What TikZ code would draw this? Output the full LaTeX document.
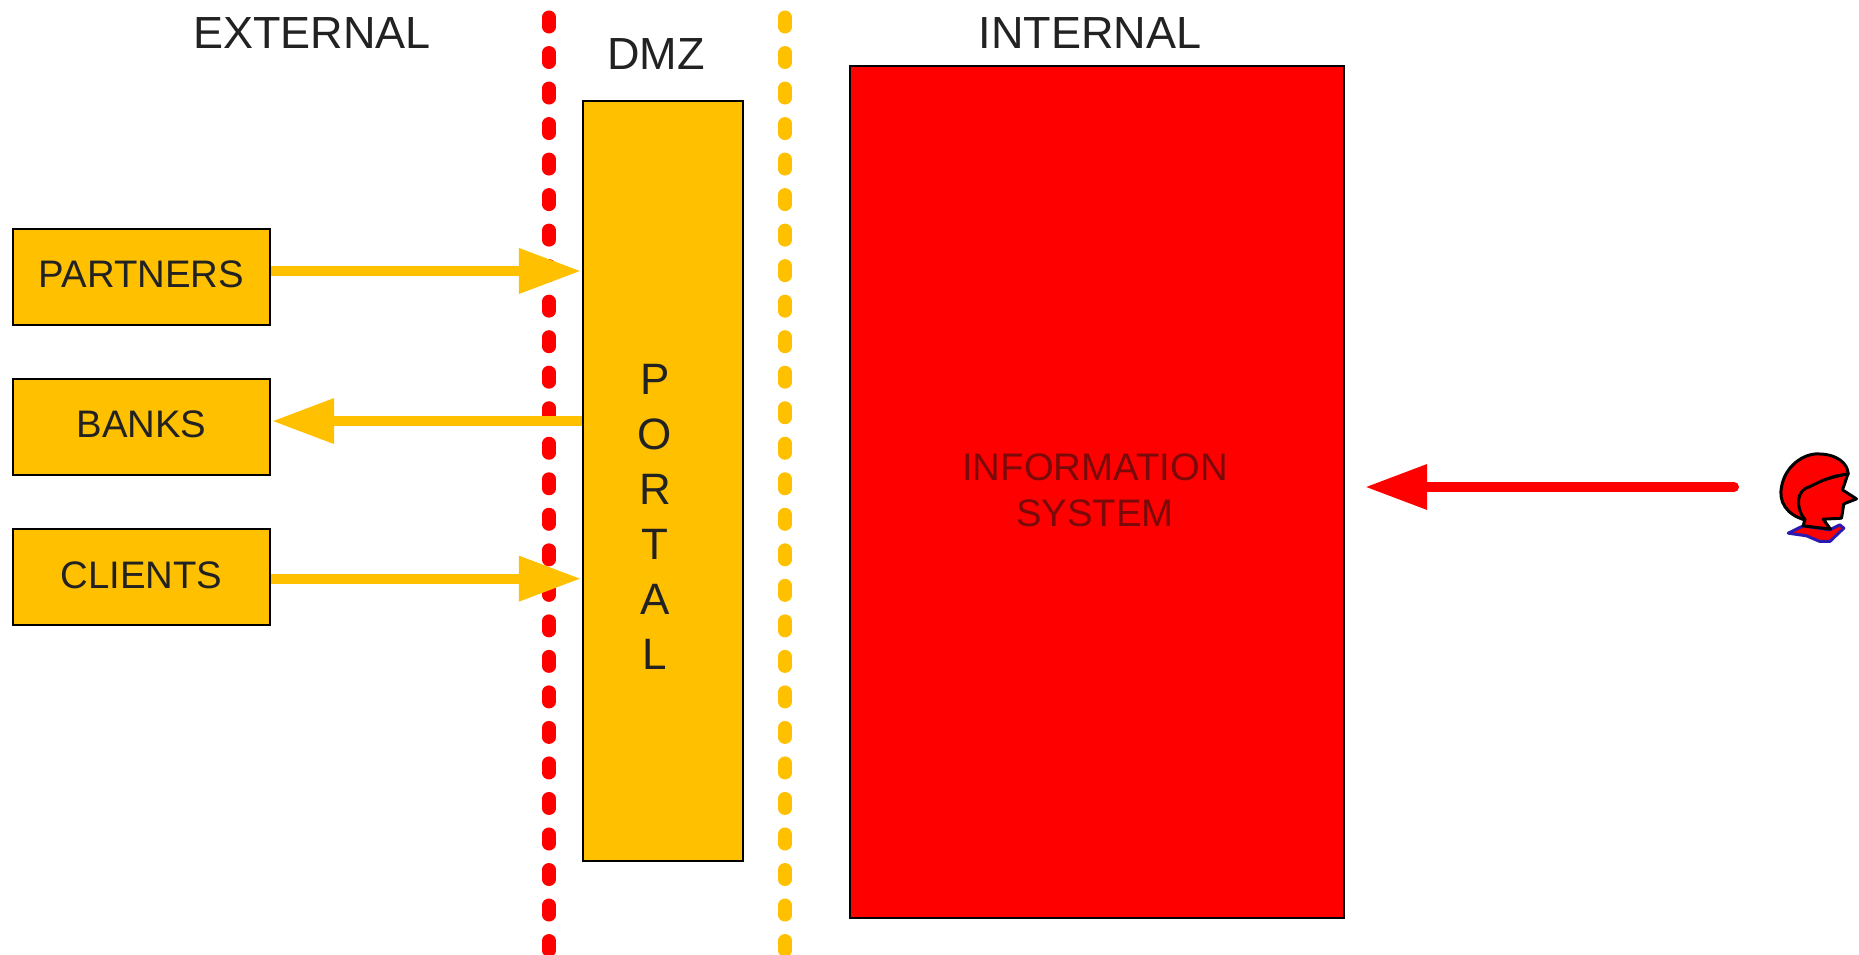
\documentclass[tikz,border=0pt]{standalone}
\usepackage{fontspec}
\setmainfont{Liberation Sans}
\usepackage{xcolor}
\usetikzlibrary{arrows.meta}
\definecolor{zoneorange}{HTML}{FFC000}
\definecolor{zonered}{HTML}{FF0000}
\definecolor{labelgrey}{HTML}{222222}
\definecolor{darktext}{HTML}{7A0A0A}
\definecolor{collarblue}{HTML}{2A1AB0}

\begin{document}
\begin{tikzpicture}[x=0.01cm,y=-0.01cm,>={Triangle[length=0.62cm,width=0.43cm]},node distance=1.5cm,
    ext node/.style={draw=black,line width=0.02cm,fill=zoneorange,minimum width=2.57cm,minimum height=0.96cm,inner sep=0pt,text depth=0.05cm,font=\fontsize{10.9}{13}\selectfont,text=labelgrey},
    zone label/.style={font=\fontsize{12.8}{15}\selectfont,text=labelgrey},
    zone line/.style={line width=0.13cm,line cap=round,dash pattern=on 0.1cm off 0.255cm},
    flow/.style={->,line width=0.1cm,draw=#1,shorten >=0.01cm}]

    \useasboundingbox (0,0) rectangle (1859,955);

    \coordinate (redtop) at (549,17);
    \coordinate (redbottom) at (549,955);
    \coordinate (yellowtop) at (785,17);
    \coordinate (yellowbottom) at (785,955);
    \draw[zone line,draw=zonered] (redtop) -- (redbottom);
    \draw[zone line,draw=zoneorange] (yellowtop) -- (yellowbottom);

    \node[zone label]  (external) at (312,33){EXTERNAL};
    \node[zone label]  (dmz) at (656,54){DMZ};
    \node[zone label]  (internal) at (1090,33){INTERNAL};

    \node[ext node]  (partners) at (141.5,277){PARTNERS};
    \node[ext node]  (banks) [below of = partners]{BANKS};
    \node[ext node]  (clients) [below of = banks]{CLIENTS};

    \node[draw=black,line width=0.02cm,fill=zoneorange,minimum width=1.6cm,minimum height=7.6cm,inner sep=0pt]  (portal) at (663,481){};
    \node[font=\fontsize{12.5}{15.6}\selectfont,align=center,text=labelgrey]  (portaltext) at (655,517){P\\O\\R\\T\\A\\L};

    \node[draw=black,line width=0.02cm,fill=zonered,minimum width=4.94cm,minimum height=8.52cm,inner sep=0pt]  (system) at (1097,492){};
    \node[font=\fontsize{10.9}{13}\selectfont,align=center,text=darktext]  (systemtext) at (1095,490){INFORMATION\\SYSTEM};

    \coordinate (usertail) at (1734,487);

    \draw[flow=zoneorange] ([yshift=0.06cm]partners.east) -- ([yshift=0.06cm]partners.east -| portal.west);
    \draw[flow=zoneorange] ([yshift=0.06cm]banks.east -| portal.west) -- ([yshift=0.06cm]banks.east);
    \draw[flow=zoneorange] ([yshift=-0.015cm]clients.east) -- ([yshift=-0.015cm]clients.east -| portal.west);
    \draw[flow=zonered,line cap=round,shorten >=0.2cm] (usertail) -- (usertail -| system.east);

    % person
    \begin{scope}[shift={(1740,430)},x=0.00333cm,y=-0.00333cm]
        \draw[fill=zonered,draw=collarblue,line width=0.03cm,line join=round]
            (145,310) -- (190,288) -- (270,300) -- (300,285) -- (312,295) -- (270,335) -- (240,335) -- (200,318) -- cycle;
        \draw[fill=zonered,draw=black,line width=0.03cm,line join=round]
            (180,170) -- (230,155) -- (325,130) -- (308,180) -- (350,207) -- (312,222) -- (305,265) -- (250,268) -- (272,298) -- (190,288) -- (195,268) -- (150,230) -- cycle;
        \draw[fill=zonered,draw=black,line width=0.03cm,line join=round]
            (195,270) .. controls (140,255) and (115,215) .. (125,170)
            .. controls (135,110) and (190,70) .. (235,72)
            .. controls (290,72) and (325,100) .. (325,133)
            .. controls (280,135) and (240,155) .. (210,170)
            .. controls (170,180) and (165,230) .. (195,270) -- cycle;
    \end{scope}
\end{tikzpicture}
\end{document}
